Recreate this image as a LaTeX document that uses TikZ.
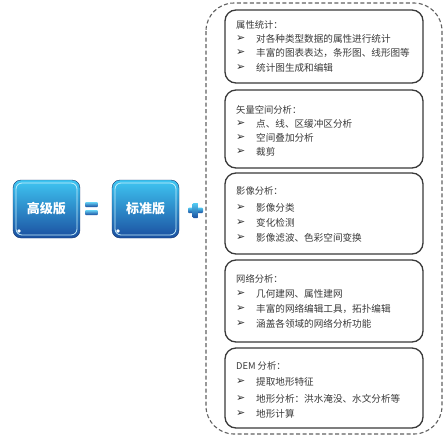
\documentclass[tikz,border=0pt]{standalone}
\usepackage{fontspec}
\setmainfont{Noto Sans CJK SC}
\newfontfamily\symfont{DejaVu Sans}
\usetikzlibrary{shadings}
\definecolor{txt}{HTML}{3A3A3A}
\definecolor{boxline}{HTML}{3A3A3A}
\definecolor{btop}{HTML}{3FC6F2}
\definecolor{bbot}{HTML}{1B4FA0}
\tikzset{
  featbox/.style={draw=boxline, line width=1.3pt, rounded corners=11pt, fill=white},
  head/.style={anchor=west, text=txt, font=\fontsize{9.3}{11}\selectfont, inner sep=0pt},
  item/.style={anchor=west, text=txt, font=\fontsize{9.6}{11}\selectfont, inner sep=0pt},
  bul/.style={anchor=west, text=txt!80!black, font=\symfont\bfseries\fontsize{11}{12}\selectfont, inner sep=0pt},
  btn/.style={rounded corners=8pt, top color=btop, bottom color=bbot, draw=bbot!70!black, line width=0.4pt},
  btntext/.style={text=white, font=\bfseries\fontsize{13}{14}\selectfont},
}
\begin{document}
\begin{tikzpicture}[x=1pt,y=-1pt]
\useasboundingbox (0,0) rectangle (447,437);
\fill[white] (0,0) rectangle (447,437);
% outer dashed frame
\draw[boxline!80, line width=1.1pt, dash pattern=on 4pt off 2.5pt, rounded corners=28pt] (206,3) rectangle (442,434);
% buttons
\draw[btn] (13,180) rectangle (80,238);
\draw[white!70!btop, line width=0.8pt, rounded corners=6pt] (16,183) rectangle (77,235);
\fill[white] (19,231) circle (1.8pt);
\node[btntext] (gj) at (46.5,209) {高级版};
\draw[btn] (112,180) rectangle (179,238);
\draw[white!70!btop, line width=0.8pt, rounded corners=6pt] (115,183) rectangle (176,235);
\fill[white] (118,231) circle (1.8pt);
\node[btntext] (bz) at (145.5,209) {标准版};
% equals
\shade[top color=btop!80, bottom color=bbot, rounded corners=1pt] (85,202) rectangle (98,207);
\shade[top color=btop!80, bottom color=bbot, rounded corners=1pt] (85,210) rectangle (98,215);
\node[inner sep=0pt] (eq) at (91.5,208.5) {};
% plus
\shade[top color=btop!90, bottom color=bbot, rounded corners=1pt] (188,207.5) rectangle (203,213);
\shade[top color=btop!90, bottom color=bbot, rounded corners=1pt] (192.7,203) rectangle (198.3,218);
\node[inner sep=0pt] (pl) at (195.5,210.5) {};
% boxes
\draw[featbox] (225,10) rectangle (423,83);
\draw[featbox] (225,90) rectangle (423,168);
\draw[featbox] (225,173) rectangle (423,254);
\draw[featbox] (225,260) rectangle (423,342);
\draw[featbox] (225,348) rectangle (423,428);
% box 1
\node[head] (h1) at (236,25) {属性统计：};
\node[bul] (b11) at (236,39) {➢}; \node[item] (i11) at (256,39) {对各种类型数据的属性进行统计};
\node[bul] (b12) at (236,53) {➢}; \node[item] (i12) at (256,53) {丰富的图表表达，条形图、线形图等};
\node[bul] (b13) at (236,68) {➢}; \node[item] (i13) at (256,68) {统计图生成和编辑};
% box 2
\node[head] (h2) at (236,110) {矢量空间分析：};
\node[bul] (b21) at (236,124) {➢}; \node[item] (i21) at (256,124) {点、线、区缓冲区分析};
\node[bul] (b22) at (236,138) {➢}; \node[item] (i22) at (256,138) {空间叠加分析};
\node[bul] (b23) at (236,152) {➢}; \node[item] (i23) at (256,152) {裁剪};
% box 3
\node[head] (h3) at (236,191) {影像分析：};
\node[bul] (b31) at (236,208) {➢}; \node[item] (i31) at (256,208) {影像分类};
\node[bul] (b32) at (236,223) {➢}; \node[item] (i32) at (256,223) {变化检测};
\node[bul] (b33) at (236,238) {➢}; \node[item] (i33) at (256,238) {影像滤波、色彩空间变换};
% box 4
\node[head] (h4) at (236,279) {网络分析：};
\node[bul] (b41) at (236,294) {➢}; \node[item] (i41) at (256,294) {几何建网、属性建网};
\node[bul] (b42) at (236,309) {➢}; \node[item] (i42) at (256,309) {丰富的网络编辑工具，拓扑编辑};
\node[bul] (b43) at (236,324) {➢}; \node[item] (i43) at (256,324) {涵盖各领域的网络分析功能};
% box 5
\node[head] (h5) at (236,366) {DEM 分析：};
\node[bul] (b51) at (236,382) {➢}; \node[item] (i51) at (256,382) {提取地形特征};
\node[bul] (b52) at (236,399) {➢}; \node[item] (i52) at (256,399) {地形分析：洪水淹没、水文分析等};
\node[bul] (b53) at (236,414) {➢}; \node[item] (i53) at (256,414) {地形计算};
\end{tikzpicture}
\end{document}
